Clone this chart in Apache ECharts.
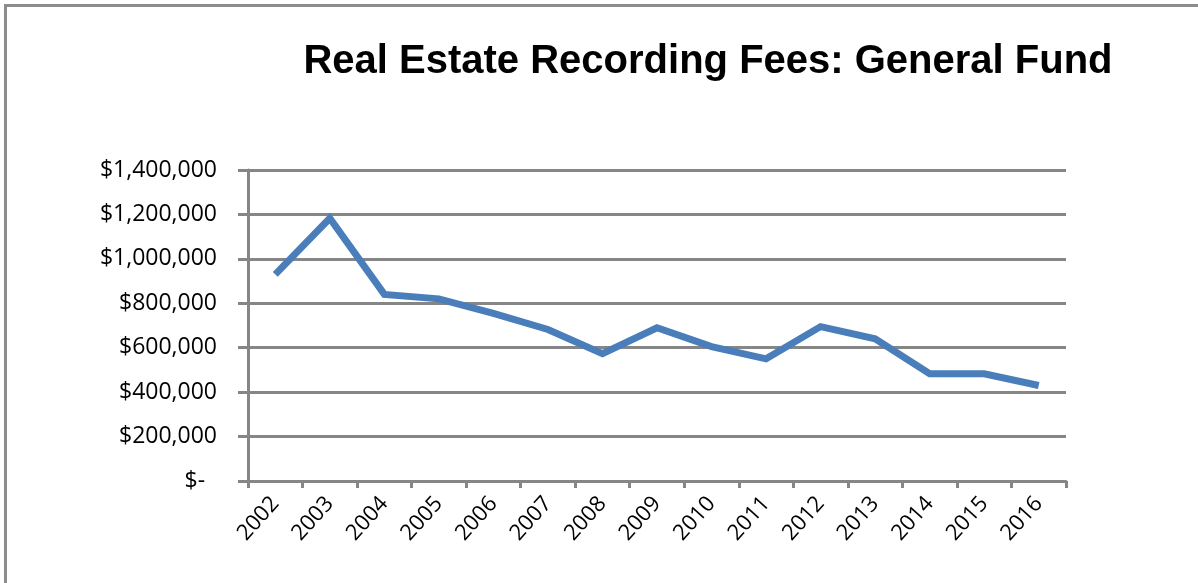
<!DOCTYPE html>
<html>
<head>
<meta charset="utf-8">
<script src="https://cdn.jsdelivr.net/npm/echarts@6/dist/echarts.min.js"></script>
<style>
html,body{margin:0;padding:0;background:#fff;}
#c{width:1198px;height:583px;}
#frame{position:absolute;left:4px;top:4px;width:1194px;height:579px;border-left:3px solid #8c8c8c;border-top:3px solid #8c8c8c;box-sizing:border-box;pointer-events:none;}
</style>
</head>
<body>
<div id="c"></div>
<div id="frame"></div>
<script>
const titleText = 'Real Estate Recording Fees: General Fund';
const years = ['2002','2003','2004','2005','2006','2007','2008','2009','2010','2011','2012','2013','2014','2015','2016'];
const fees = [930000, 1183000, 840000, 820000, 755000, 682000, 573000, 690000, 605000, 550000, 695000, 640000, 483000, 483000, 430000];
const yTicks = [0, 200000, 400000, 600000, 800000, 1000000, 1200000, 1400000];

const chart = echarts.init(document.getElementById('c'));
const fmt = v => v === 0 ? '$-  ' : '$' + v.toLocaleString('en-US');
chart.setOption({
  animation: false,
  backgroundColor: '#fff',
  title: {
    text: titleText,
    left: 703, top: 37, textAlign: 'center',
    textStyle: {fontFamily: '"Liberation Sans", sans-serif', fontWeight: 'bold', fontSize: 40, color: '#000'}
  },
  grid: {left: 248, right: 132, top: 170, bottom: 102, containLabel: false},
  xAxis: {
    type: 'category', data: years, boundaryGap: true,
    axisLine: {lineStyle: {color: '#868686', width: 3}},
    axisTick: {show: true, length: 7, lineStyle: {color: '#868686', width: 3}},
    axisLabel: {rotate: 48, fontSize: 22, color: '#000', margin: 19, fontFamily: '"Open Sans", sans-serif', interval: 0}
  },
  yAxis: {
    type: 'value', min: 0, max: 1400000, interval: 200000,
    axisLine: {show: true, lineStyle: {color: '#868686', width: 3}},
    axisTick: {show: true, length: 10, lineStyle: {color: '#868686', width: 3}},
    splitLine: {lineStyle: {color: '#868686', width: 3}},
    axisLabel: {formatter: fmt, fontSize: 23, color: '#000', margin: 31, fontFamily: '"Open Sans", sans-serif',
      customValues: yTicks}
  },
  series: [{
    type: 'line', data: fees, showSymbol: false, symbol: 'none',
    lineStyle: {color: '#4a7ebb', width: 7, join: 'miter'},
    itemStyle: {color: '#4a7ebb'}
  }]
});
</script>
</body>
</html>
